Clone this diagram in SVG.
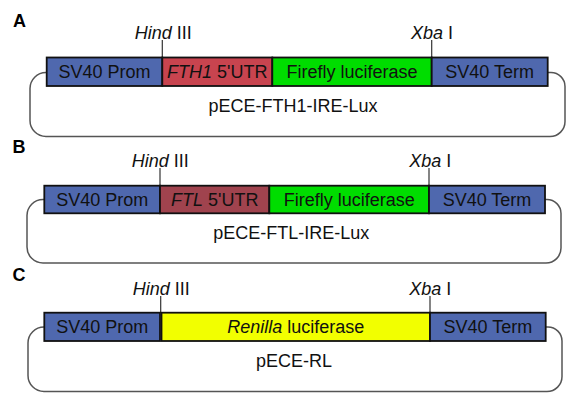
<svg xmlns="http://www.w3.org/2000/svg" width="566" height="396" viewBox="0 0 566 396">
  <style>
    text { font-family: "Liberation Sans", Arial, sans-serif; font-size: 18px; fill: #111; }
    .panel { font-weight: bold; font-size: 18px; fill: #000; }
    .lbl { text-anchor: middle; }
    .it { font-style: italic; }
    .seg { stroke: #111; stroke-width: 1.8; }
    .prom, .term { fill: #4F68AE; }
    .fth1 { fill: #C8444F; }
    .ftl { fill: #A0434E; }
    .fluc { fill: #00DD00; }
    .rluc { fill: #F2FF00; }
    .loop { fill: none; stroke: #555; stroke-width: 1.5; }
    .site { stroke: #333; stroke-width: 1.2; }
  </style>

  <!-- backbone loops -->
  <g id="connectors">
    <path class="loop" d="M47,72.5 H46 A16,16 0 0 0 30,88.5 V120.5 A16,16 0 0 0 46,136.5 H550 A15,15 0 0 0 565,121.5 V86.5 A14,14 0 0 0 551,72.5 H547"/>
    <path class="loop" d="M45,199.5 H43 A16,16 0 0 0 27,215.5 V247 A16,16 0 0 0 43,263 H546 A15,15 0 0 0 561,248 V213.5 A14,14 0 0 0 547,199.5 H545"/>
    <path class="loop" d="M45,327 H44 A16,16 0 0 0 28,343 V375.5 A16,16 0 0 0 44,391.5 H547 A15,15 0 0 0 562,376.5 V341 A14,14 0 0 0 548,327 H545"/>
    <!-- restriction site ticks -->
    <line class="site" x1="162.3" y1="40" x2="162.3" y2="58"/>
    <line class="site" x1="431.7" y1="40" x2="431.7" y2="58"/>
    <line class="site" x1="160" y1="168" x2="160" y2="186"/>
    <line class="site" x1="429" y1="168" x2="429" y2="186"/>
    <line class="site" x1="160.7" y1="296" x2="160.7" y2="313"/>
    <line class="site" x1="430" y1="296" x2="430" y2="313"/>
  </g>

  <!-- Panel A: pECE-FTH1-IRE-Lux -->
  <g id="panelA">
    <text class="panel" x="13" y="26.5">A</text>
    <text x="134.7" y="38.5"><tspan class="it">Hind</tspan> III</text>
    <text x="411" y="38.5"><tspan class="it">Xba</tspan> I</text>
    <g id="A-prom"><rect class="seg prom" x="46.7" y="57.5" width="115.6" height="28.5"/><text class="lbl" x="104.5" y="78.2">SV40 Prom</text></g>
    <g id="A-utr"><rect class="seg fth1" x="162.3" y="57.5" width="110" height="28.5"/><text class="lbl" x="217.3" y="78.2"><tspan class="it">FTH1</tspan> 5'UTR</text></g>
    <g id="A-luc"><rect class="seg fluc" x="272.3" y="57.5" width="159.4" height="28.5"/><text class="lbl" x="352" y="78.2">Firefly luciferase</text></g>
    <g id="A-term"><rect class="seg term" x="431.7" y="57.5" width="116" height="28.5"/><text class="lbl" x="489.7" y="78.2">SV40 Term</text></g>
    <text class="lbl" x="293" y="111.5">pECE-FTH1-IRE-Lux</text>
  </g>

  <!-- Panel B: pECE-FTL-IRE-Lux -->
  <g id="panelB">
    <text class="panel" x="12.5" y="153">B</text>
    <text x="131.7" y="166.5"><tspan class="it">Hind</tspan> III</text>
    <text x="409.3" y="166.5"><tspan class="it">Xba</tspan> I</text>
    <g id="B-prom"><rect class="seg prom" x="44.3" y="185.7" width="115.7" height="27.6"/><text class="lbl" x="102.2" y="205.9">SV40 Prom</text></g>
    <g id="B-utr"><rect class="seg ftl" x="160" y="185.7" width="109.3" height="27.6"/><text class="lbl" x="214.7" y="205.9"><tspan class="it">FTL</tspan> 5'UTR</text></g>
    <g id="B-luc"><rect class="seg fluc" x="269.3" y="185.7" width="159.7" height="27.6"/><text class="lbl" x="349.2" y="205.9">Firefly luciferase</text></g>
    <g id="B-term"><rect class="seg term" x="429" y="185.7" width="116" height="27.6"/><text class="lbl" x="487" y="205.9">SV40 Term</text></g>
    <text class="lbl" x="291.3" y="238.8">pECE-FTL-IRE-Lux</text>
  </g>

  <!-- Panel C: pECE-RL -->
  <g id="panelC">
    <text class="panel" x="12.5" y="280.5">C</text>
    <text x="132.7" y="295"><tspan class="it">Hind</tspan> III</text>
    <text x="409.3" y="295"><tspan class="it">Xba</tspan> I</text>
    <g id="C-prom"><rect class="seg prom" x="44.3" y="312.7" width="115.7" height="28.3"/><text class="lbl" x="102.2" y="333.2">SV40 Prom</text></g>
    <g id="C-luc"><rect class="seg rluc" x="161.5" y="312.7" width="268.5" height="28.3"/><text class="lbl" x="295.7" y="333.2"><tspan class="it">Renilla</tspan> luciferase</text></g>
    <g id="C-term"><rect class="seg term" x="430" y="312.7" width="115.7" height="28.3"/><text class="lbl" x="487.8" y="333.2">SV40 Term</text></g>
    <text class="lbl" x="294" y="366.5">pECE-RL</text>
  </g>
</svg>
